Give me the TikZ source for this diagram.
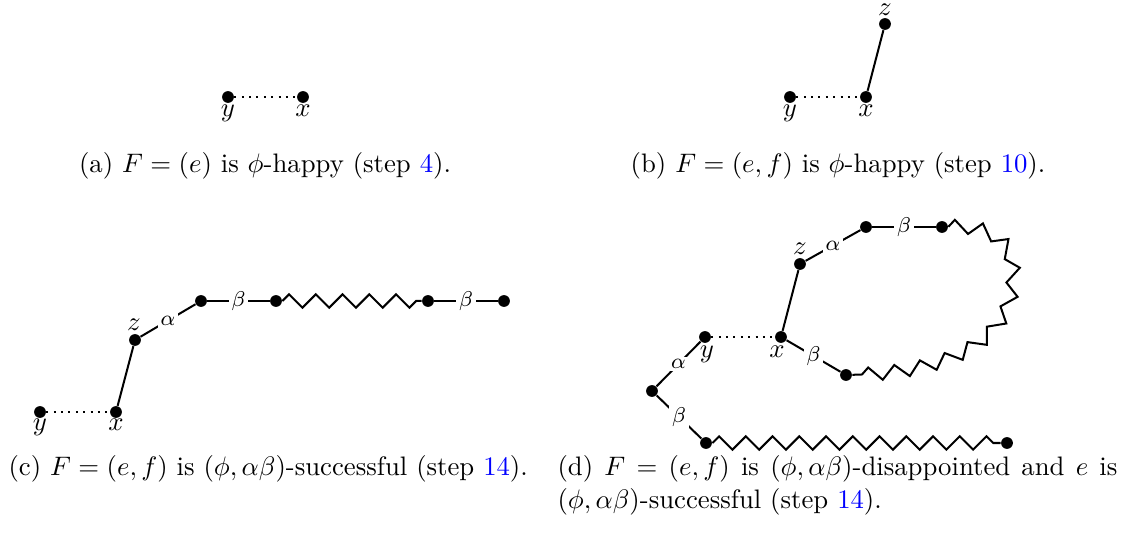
\documentclass[tikz,border=0pt]{standalone}
\usetikzlibrary{decorations.pathmorphing}
\begin{document}
\begin{tikzpicture}[x=0.374pt,y=-0.374pt,
  vtx/.style={circle,fill=black,inner sep=0pt,minimum size=4.4pt},
  edge/.style={line width=0.75pt},
  dotedge/.style={line width=0.75pt,dash pattern=on 0.75pt off 2pt},
  zz/.style={line width=0.75pt,decorate,decoration={zigzag,amplitude=2.5pt,segment length=10pt}},
  lab/.style={fill=white,inner sep=1pt,font=\footnotesize},
  vname/.style={inner sep=0pt,anchor=base},
  captxt/.style={inner sep=0pt,anchor=base}
]
\useasboundingbox (0,0) rectangle (1126,533);

% (a)
\node[vtx] (ay) at (228,97) {};
\node[vtx] (ax) at (303,97) {};
\node[vname] (ayl) at (228,117) {$y$};
\node[vname] (axl) at (303,117) {$x$};
\draw[dotedge] (ay) -- (ax);
\node[captxt] (capa) at (265,173) {(a) $F=(e)$ is $\phi$-happy (step \textcolor{blue}{4}).};

% (b)
\node[vtx] (by) at (790,97) {};
\node[vtx] (bx) at (866,97) {};
\node[vtx] (bz) at (885,24) {};
\node[vname] (byl) at (790,117) {$y$};
\node[vname] (bxl) at (866,117) {$x$};
\node[vname] (bzl) at (885,16) {$z$};
\draw[dotedge] (by) -- (bx);
\draw[edge] (bx) -- (bz);
\node[captxt] (capb) at (838,173) {(b) $F=(e,f)$ is $\phi$-happy (step \textcolor{blue}{10}).};

% (c)
\node[vtx] (cy) at (40,412) {};
\node[vtx] (cx) at (116,412) {};
\node[vtx] (cz) at (135,340) {};
\node[vtx] (c1) at (201,301) {};
\node[vtx] (c2) at (276,301) {};
\node[vtx] (c3) at (428,301) {};
\node[vtx] (c4) at (504,301) {};
\node[vname] (cyl) at (40,431) {$y$};
\node[vname] (cxl) at (116,431) {$x$};
\node[vname] (czl) at (134,331) {$z$};
\draw[dotedge] (cy) -- (cx);
\draw[edge] (cx) -- (cz);
\draw[edge] (cz) -- node[lab] (ca) {$\alpha$} (c1);
\draw[edge] (c1) -- node[lab] (cb1) {$\beta$} (c2);
\draw[zz] (c2) -- (c3);
\draw[edge] (c3) -- node[lab] (cb2) {$\beta$} (c4);
\node[captxt,anchor=base west] (capc) at (8,476) {(c) $F=(e,f)$ is $(\phi,\alpha\beta)$-successful (step \textcolor{blue}{14}).};

% (d)
\node[vtx] (dy) at (705,337) {};
\node[vtx] (dx) at (781,337) {};
\node[vtx] (dz) at (800,264) {};
\node[vtx] (d1) at (866,227) {};
\node[vtx] (d2) at (942,227) {};
\node[vtx] (d3) at (846,375) {};
\node[vtx] (d4) at (652,391) {};
\node[vtx] (d5) at (706,443) {};
\node[vtx] (d6) at (1007,443) {};
\node[vname] (dyl) at (707,358) {$y$};
\node[vname] (dxl) at (777,358) {$x$};
\node[vname] (dzl) at (800,255) {$z$};
\draw[dotedge] (dy) -- (dx);
\draw[edge] (dx) -- (dz);
\draw[edge] (dz) -- node[lab] (da1) {$\alpha$} (d1);
\draw[edge] (d1) -- node[lab] (db1) {$\beta$} (d2);
\draw[zz] (d2) .. controls (995,225) and (1015,245) .. (1013,280)
               .. controls (1010,335) and (960,372) .. (d3);
\draw[edge] (dx) -- node[lab] (db2) {$\beta$} (d3);
\draw[edge] (dy) -- node[lab] (da2) {$\alpha$} (d4);
\draw[edge] (d4) -- node[lab] (db3) {$\beta$} (d5);
\draw[zz] (d5) -- (d6);
\node[captxt,anchor=base west,text width=209.4pt,align=justify] (capd) at (557,476)
  {(d) $F=(e,f)$ is $(\phi,\alpha\beta)$-disappointed and $e$ is $(\phi,\alpha\beta)$-successful (step \textcolor{blue}{14}).};
\end{tikzpicture}
\end{document}
